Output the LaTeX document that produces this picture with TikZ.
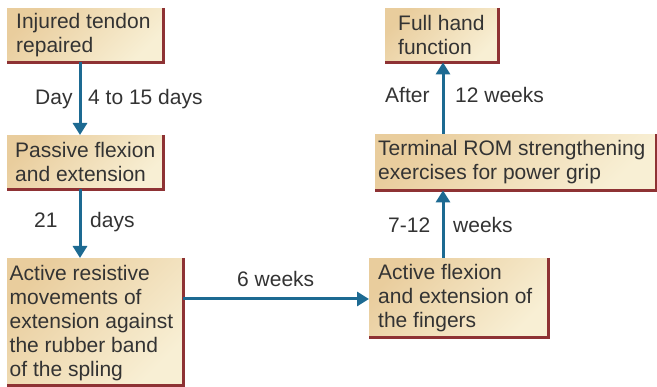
\documentclass[tikz,border=0pt]{standalone}
\usepackage{fontspec}
\setmainfont{Liberation Sans}
\usetikzlibrary{arrows.meta}
\definecolor{tanA}{HTML}{E9CD9D}
\definecolor{creamB}{HTML}{F8EFD4}
\definecolor{rimc}{HTML}{8E3234}
\definecolor{flowc}{HTML}{1D6A92}
\definecolor{txt}{HTML}{333333}
\newcommand\stagefont{\fontsize{21}{24}\selectfont}
\tikzset{
  stage/.style={anchor=north west, inner sep=0pt, shading=axis,
    top color=tanA, bottom color=creamB, shading angle=45},
  body/.style={anchor=west, align=left, inner sep=0pt, text=txt, font=\stagefont},
  rim/.style={draw=rimc, line width=2.4pt},
  flow/.style={draw=flowc, line width=3pt, -{Triangle[width=14pt,length=12pt]}},
  lbl/.style={text=txt, font=\stagefont, inner sep=0pt, anchor=base west}
}
\begin{document}
\begin{tikzpicture}[x=1pt,y=-1pt]
\useasboundingbox (0,0) rectangle (657,387);
% stage boxes
\node[stage, minimum width=156pt, minimum height=54pt] (b1) at (7,8) {};
\node[stage, minimum width=156pt, minimum height=54pt] (b2) at (7,135) {};
\node[stage, minimum width=176pt, minimum height=127pt] (b3) at (7,258) {};
\node[stage, minimum width=179pt, minimum height=79pt] (b4) at (369,258) {};
\node[stage, minimum width=281pt, minimum height=56pt] (b5) at (375,134) {};
\node[stage, minimum width=113pt, minimum height=54pt] (b6) at (385,8) {};
% shadow rims on right and bottom
\foreach \b in {b1,b2,b3,b4,b5,b6}
  \draw[rim] (\b.north east) -- (\b.south east) -- (\b.south west);
% box texts
\node[body] (t1) at ([xshift=9pt]b1.west) {Injured tendon\\repaired};
\node[body] (t2) at ([xshift=8pt]b2.west) {Passive flexion\\and extension};
\node[body] (t3) at ([xshift=2.5pt,yshift=-1pt]b3.west)
  {Active resistive\\movements of\\extension against\\the rubber band\\of the spling};
\node[body] (t4) at ([xshift=9pt]b4.west) {Active flexion\\and extension of\\the fingers};
\node[body] (t5) at ([xshift=3pt]b5.west) {Terminal ROM strengthening\\exercises for power grip};
\node[body] (t6) at ([xshift=13pt]b6.west) {Full hand\\function};
% connector guides
\coordinate (ax) at (80,0);
\coordinate (bx) at (443,0);
\coordinate (hy) at (0,299);
% connectors
\draw[flow] (b1.south -| ax) -- (b2.north -| ax);
\draw[flow] (b2.south -| ax) -- (b3.north -| ax);
\draw[flow] (b3.east |- hy) -- (b4.west |- hy);
\draw[flow] (b4.north -| bx) -- (b5.south -| bx);
\draw[flow] (b5.north -| bx) -- (b6.south -| bx);
% labels
\node[lbl] (l1a) at (35,105) {Day};
\node[lbl] (l1b) at (88,105) {4 to 15 days};
\node[lbl] (l2a) at (34,228) {21};
\node[lbl] (l2b) at (90,228) {days};
\node[lbl] (l3) at (237,287) {6 weeks};
\node[lbl] (l4a) at (388,233) {7-12};
\node[lbl] (l4b) at (453,233) {weeks};
\node[lbl] (l5a) at (385,103) {After};
\node[lbl] (l5b) at (455,103) {12 weeks};
\end{tikzpicture}
\end{document}
